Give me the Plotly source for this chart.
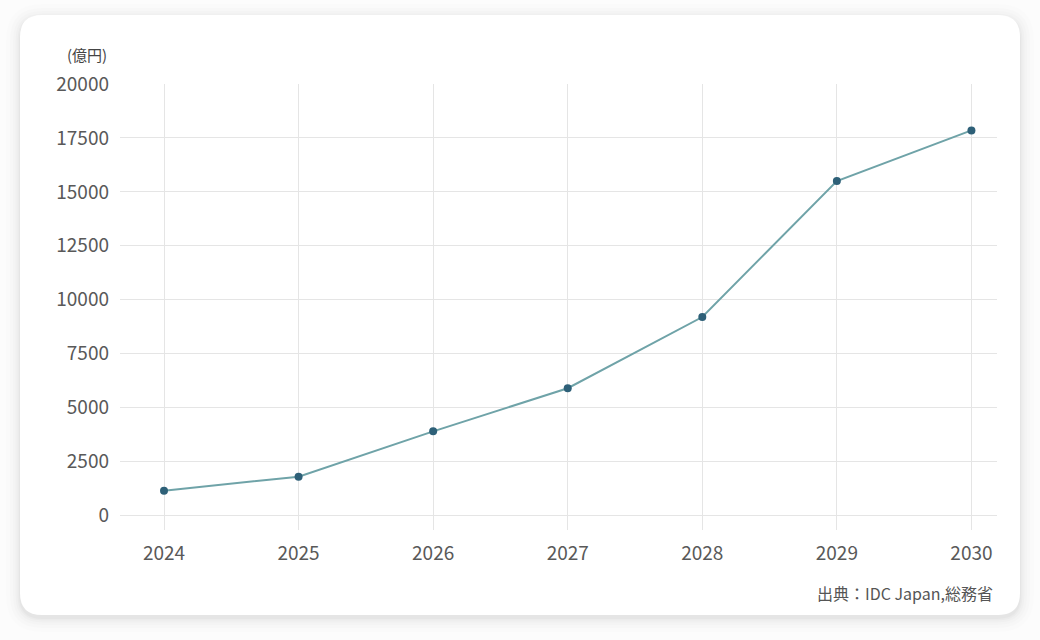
import plotly.graph_objects as go

years = [2024, 2025, 2026, 2027, 2028, 2029, 2030]
market_oku_yen = [1150, 1800, 3900, 5900, 9200, 15500, 17850]
y_ticks = [0, 2500, 5000, 7500, 10000, 12500, 15000, 17500, 20000]
unit_label = "(億円)"
source_label = "出典：IDC Japan,総務省"

W, H = 1040, 640
L, R, T, B = 120, 43, 84, 110
PW, PH = W - L - R, H - T - B


def px(x):
    return (x - L) / PW


def py(y):
    return (H - B - y) / PH


def rounded_rect(x0, y0, x1, y1, r):
    p = []
    p.append(f"M {px(x0 + r)} {py(y0)}")
    p.append(f"L {px(x1 - r)} {py(y0)}")
    p.append(f"Q {px(x1)} {py(y0)} {px(x1)} {py(y0 + r)}")
    p.append(f"L {px(x1)} {py(y1 - r)}")
    p.append(f"Q {px(x1)} {py(y1)} {px(x1 - r)} {py(y1)}")
    p.append(f"L {px(x0 + r)} {py(y1)}")
    p.append(f"Q {px(x0)} {py(y1)} {px(x0)} {py(y1 - r)}")
    p.append(f"L {px(x0)} {py(y0 + r)}")
    p.append(f"Q {px(x0)} {py(y0)} {px(x0 + r)} {py(y0)}")
    p.append("Z")
    return " ".join(p)


shapes = []
for d, op in [(14, 0.008), (10, 0.010), (7, 0.013), (4.5, 0.016), (2.5, 0.02), (1, 0.024)]:
    shapes.append(dict(type="path", xref="paper", yref="paper", layer="below",
                       path=rounded_rect(20 - d, 15 - d + 3, 1020 + d, 615 + d + 3, 22 + d),
                       fillcolor=f"rgba(0,0,0,{op})", line=dict(width=0)))
shapes.append(dict(type="path", xref="paper", yref="paper", layer="below",
                   path=rounded_rect(20, 15, 1020, 615, 22),
                   fillcolor="#ffffff", line=dict(width=0)))

fig = go.Figure()
fig.add_trace(go.Scatter(
    x=years, y=market_oku_yen, mode="lines+markers",
    line=dict(color="#6fa3a8", width=2),
    marker=dict(color="#2e6078", size=8),
    hoverinfo="x+y", showlegend=False,
))

font_family = "Noto Sans CJK JP"
fig.update_layout(
    width=W, height=H,
    margin=dict(l=L, r=R, t=T, b=B),
    paper_bgcolor="#fcfcfc",
    plot_bgcolor="rgba(0,0,0,0)",
    font=dict(family=font_family, color="#555555", size=19),
    shapes=shapes,
    xaxis=dict(range=[2023.673, 2030.19], tickvals=years, ticktext=[str(y) for y in years],
               showgrid=True, gridcolor="#e5e5e5", gridwidth=1, zeroline=False,
               showline=False, ticks="", ticklabelstandoff=10,
               tickfont=dict(size=19, color="#595959")),
    yaxis=dict(range=[-672, 20000], tickvals=y_ticks, ticktext=[str(v) for v in y_ticks],
               showgrid=True, gridcolor="#e5e5e5", gridwidth=1, zeroline=False,
               showline=False, ticks="", ticklabelstandoff=10,
               tickfont=dict(size=19, color="#595959")),
    annotations=[
        dict(text=unit_label, xref="paper", yref="paper", x=px(109), y=py(55),
             xanchor="right", yanchor="middle", showarrow=False,
             font=dict(size=15, color="#444444", family=font_family)),
        dict(text=source_label, xref="paper", yref="paper", x=px(995), y=py(593),
             xanchor="right", yanchor="middle", showarrow=False,
             font=dict(size=16, color="#555555", family=font_family)),
    ],
)

fig.write_html("out.html", config={"displayModeBar": False},
               post_script="document.body.style.margin='0';document.body.style.background='#fcfcfc';")
